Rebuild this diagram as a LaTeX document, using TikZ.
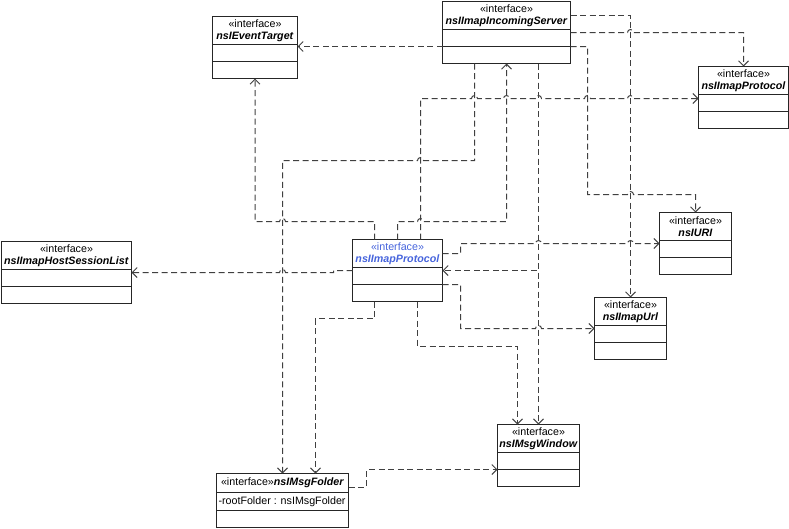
\documentclass[tikz,border=0pt]{standalone}
\usepackage{fontspec}
\setmainfont{Liberation Sans}
\usetikzlibrary{positioning,arrows.meta}
\definecolor{protoblue}{RGB}{70,100,220}
\newcommand{\clsname}[1]{\textbf{\textit{#1}}}
\newcommand{\hopr}{arc[start angle=180,end angle=0,radius=3pt]}
\newcommand{\hopl}{arc[start angle=0,end angle=180,radius=3pt]}

\begin{document}
\begin{tikzpicture}[x=1pt, y=-1pt,
    hdr/.style={draw=black!85, line width=1pt, outer sep=0pt, inner sep=1pt, minimum height=28pt,
                anchor=north west, align=center, font=\fontsize{10.7}{12.5}\selectfont},
    cmp/.style={draw=black!85, line width=1pt, outer sep=0pt, inner sep=0pt, minimum height=17pt},
    dep/.style={draw=black!75, line width=1pt, dash pattern=on 6pt off 3.5pt,
                -{Straight Barb[length=5pt,width=10pt]}}]
        \useasboundingbox (-0.5,-0.5) rectangle (788.5,527.5);
        % classes
        \node[hdr, minimum width=85pt]  (evt) at (212,16)  {«interface»\\\clsname{nsIEventTarget}};
        \node[cmp, minimum width=85pt, below=0pt of evt] (evt-a) {};
        \node[cmp, minimum width=85pt, below=0pt of evt-a] (evt-o) {};
        \node[hdr, minimum width=128pt] (srv) at (442,1)   {«interface»\\\clsname{nsIImapIncomingServer}};
        \node[cmp, minimum width=128pt, below=0pt of srv] (srv-a) {};
        \node[cmp, minimum width=128pt, below=0pt of srv-a] (srv-o) {};
        \node[hdr, minimum width=90pt]  (ipr) at (698,66)  {«interface»\\\clsname{nsIImapProtocol}};
        \node[cmp, minimum width=90pt, below=0pt of ipr] (ipr-a) {};
        \node[cmp, minimum width=90pt, below=0pt of ipr-a] (ipr-o) {};
        \node[hdr, minimum width=72pt]  (uri) at (659,212) {«interface»\\\clsname{nsIURI}};
        \node[cmp, minimum width=72pt, below=0pt of uri] (uri-a) {};
        \node[cmp, minimum width=72pt, below=0pt of uri-a] (uri-o) {};
        \node[hdr, minimum width=72pt]  (url) at (594,297) {«interface»\\\clsname{nsIImapUrl}};
        \node[cmp, minimum width=72pt, below=0pt of url] (url-a) {};
        \node[cmp, minimum width=72pt, below=0pt of url-a] (url-o) {};
        \node[hdr, minimum width=130pt] (hsl) at (1,241)   {«interface»\\\clsname{nsIImapHostSessionList}};
        \node[cmp, minimum width=130pt, below=0pt of hsl] (hsl-a) {};
        \node[cmp, minimum width=130pt, below=0pt of hsl-a] (hsl-o) {};
        \node[hdr, minimum width=90pt, text=protoblue] (pro) at (352,239) {«interface»\\\clsname{nsIImapProtocol}};
        \node[cmp, minimum width=90pt, below=0pt of pro] (pro-a) {};
        \node[cmp, minimum width=90pt, below=0pt of pro-a] (pro-o) {};
        \node[hdr, minimum width=82pt]  (win) at (497,424) {«interface»\\\clsname{nsIMsgWindow}};
        \node[cmp, minimum width=82pt, below=0pt of win] (win-a) {};
        \node[cmp, minimum width=82pt, below=0pt of win-a] (win-o) {};
        \node[hdr, minimum width=132pt, minimum height=19pt] (fld) at (216,473) {«interface»\clsname{nsIMsgFolder}};
        \node[cmp, minimum width=132pt, minimum height=18pt, below=0pt of fld,
              font=\fontsize{10.7}{12.5}\selectfont] (fld-a) {\makebox[128pt][l]{-rootFolder : nsIMsgFolder}};
        \node[cmp, minimum width=132pt, below=0pt of fld-a] (fld-o) {};
        % dependencies
        \draw[dep] (srv-o.north west) -- (srv-o.north west -| evt-a.east);
        \draw[dep] (srv.east) -| (url.north);
        \draw[dep] (srv-a.east |- 0,32) -- (627,32) \hopr -| (ipr.north);
        \draw[dep] (srv-o.north east) -| (587,194) -- (627,194) \hopr -| (uri.north);
        \draw[dep] ([xshift=23pt]pro.north) |- (471,98) \hopr -- (503,98) \hopr -- (535,98) \hopr
              -- (584,98) \hopr -- (627,98) \hopr -- (ipr-a.west |- 0,98);
        \draw[dep] ([xshift=-32pt]srv-o.south) |- (423,160) \hopl -| (fld.north);
        \draw[dep] (pro.north) |- (417,221) \hopr -| (srv-o.south);
        \draw[dep] ([xshift=32pt]srv-o.south) -- (win.north);
        \draw[dep] ([xshift=32pt]srv-o.south) -- (538,270) -- (pro-a.east |- 0,270);
        \draw[dep] ([xshift=-23pt]pro.north) |- (285,221) \hopl -| (evt-o.south);
        \draw[dep] (pro.east) -| (460,243) -- (535,243) \hopr -- (627,243) \hopr -- (uri-a.west |- 0,243);
        \draw[dep] (pro-o.north east) -| (460,328) -- (535,328) \hopr -- (url-a.west |- 0,328);
        \draw[dep] (pro-a.west |- 0,270) -| (333,272) -- (285,272) \hopl -- (hsl-a.east |- 0,272);
        \draw[dep] ([xshift=-23pt]pro-o.south) |- (315,318) -- ([xshift=33pt]fld.north);
        \draw[dep] ([xshift=20pt]pro-o.south) |- (517,346) -- ([xshift=-21pt]win.north);
        \draw[dep] ([yshift=-4pt]fld.east) -| (366,469) -- (win-o.north west);
\end{tikzpicture}
\end{document}
